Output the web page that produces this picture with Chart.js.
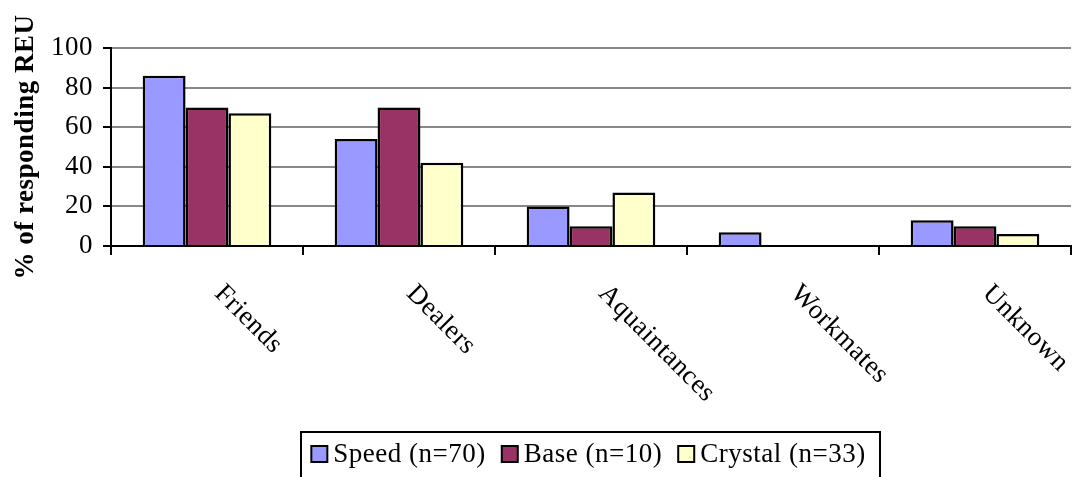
<!DOCTYPE html>
<html>
<head>
<meta charset="utf-8">
<script src="https://cdn.jsdelivr.net/npm/chart.js@4/dist/chart.umd.min.js"></script>
<style>
  html, body { margin: 0; padding: 0; background: #fff; }
  canvas { display: block; }
</style>
</head>
<body>
<canvas id="reuChart" width="1073" height="477"></canvas>
<script>
// categories and series (% of responding REU)
const categories = ['Friends', 'Dealers', 'Aquaintances', 'Workmates', 'Unknown'];
const seriesNames = ['Speed (n=70)', 'Base (n=10)', 'Crystal (n=33)'];
const speedValues = [86, 54, 20, 7, 13];
const baseValues = [70, 70, 10, 0, 10];
const crystalValues = [67, 42, 27, 0, 6];
const seriesColors = ['#9999FF', '#993366', '#FFFFCC'];
const yTicks = [0, 20, 40, 60, 80, 100];

const FONT = "'Liberation Serif', 'Times New Roman', serif";
const SIZE = 27;
const SPACING = '0.5px';

// slightly wider letter spacing, Garamond-ish look
const spacingPlugin = {
  id: 'spacing',
  beforeUpdate(chart) { chart.ctx.letterSpacing = SPACING; },
  beforeDraw(chart) { chart.ctx.letterSpacing = SPACING; }
};

// rotated category labels (top-left to bottom-right) under the axis
const xLabelPlugin = {
  id: 'xLabels',
  afterDraw(chart) {
    const ctx = chart.ctx;
    const xScale = chart.scales.x;
    const capH = SIZE * 0.66;
    ctx.save();
    ctx.letterSpacing = SPACING;
    ctx.font = SIZE + 'px ' + FONT;
    ctx.fillStyle = '#000';
    ctx.textAlign = 'left';
    ctx.textBaseline = 'alphabetic';
    categories.forEach(function (label, i) {
      const x = xScale.getPixelForValue(i);
      ctx.save();
      ctx.translate(x + 19 - capH * 0.707, 282 + capH * 0.707);
      ctx.rotate(Math.PI / 4);
      ctx.fillText(label, 0, 0);
      ctx.restore();
    });
    ctx.restore();
  }
};

// boxed legend at the bottom
const legendPlugin = {
  id: 'boxLegend',
  afterDraw(chart) {
    const ctx = chart.ctx;
    ctx.save();
    ctx.letterSpacing = SPACING;
    ctx.font = SIZE + 'px ' + FONT;
    ctx.lineWidth = 2;
    ctx.strokeStyle = '#000';
    ctx.strokeRect(301, 432, 579, 60);

    const sq = 16, gap = 5, itemGap = 15;
    const widths = seriesNames.map(function (n) { return ctx.measureText(n).width; });
    let total = 0;
    widths.forEach(function (w) { total += sq + 2 + gap + w; });
    total += itemGap * (seriesNames.length - 1);
    let x = 588 - total / 2;
    seriesNames.forEach(function (name, i) {
      ctx.fillStyle = seriesColors[i];
      ctx.fillRect(x + 1, 446, sq, sq);
      ctx.strokeRect(x + 1, 446, sq, sq);
      x += sq + 2 + gap;
      ctx.fillStyle = '#000';
      ctx.textBaseline = 'alphabetic';
      ctx.fillText(name, x, 462);
      x += widths[i] + itemGap;
    });
    ctx.restore();
  }
};

const barStyle = {
  borderColor: '#000',
  borderWidth: 2.5,
  barPercentage: 1.0,
  categoryPercentage: 0.67
};

new Chart(document.getElementById('reuChart').getContext('2d'), {
  type: 'bar',
  data: {
    labels: categories,
    datasets: [
      Object.assign({ label: seriesNames[0], data: speedValues, backgroundColor: seriesColors[0] }, barStyle),
      Object.assign({ label: seriesNames[1], data: baseValues, backgroundColor: seriesColors[1] }, barStyle),
      Object.assign({ label: seriesNames[2], data: crystalValues, backgroundColor: seriesColors[2] }, barStyle)
    ]
  },
  options: {
    responsive: false,
    animation: false,
    layout: {
      padding: { top: 48, right: 2, bottom: 0, left: 0 }
    },
    plugins: {
      legend: { display: false },
      tooltip: { enabled: false }
    },
    scales: {
      x: {
        offset: true,
        grid: {
          offset: true,
          drawOnChartArea: false,
          drawTicks: true,
          tickLength: 9,
          color: '#000',
          lineWidth: 2
        },
        border: { color: '#000', width: 2 },
        ticks: { display: false },
        afterFit: function (scale) { scale.height = 477 - 246; }
      },
      y: {
        min: 0,
        max: 100,
        afterBuildTicks: function (scale) {
          scale.ticks = yTicks.map(function (v) { return { value: v }; });
        },
        grid: {
          color: '#888',
          lineWidth: 2,
          tickColor: '#000',
          tickLength: 8
        },
        border: { color: '#000', width: 2 },
        ticks: {
          color: '#000',
          padding: 10,
          font: { family: FONT, size: SIZE }
        },
        title: {
          display: true,
          text: '% of responding REU',
          color: '#000',
          padding: { top: 10, bottom: 0 },
          font: { family: FONT, size: SIZE, weight: 'bold' }
        },
        afterFit: function (scale) { scale.width = 111; }
      }
    }
  },
  plugins: [spacingPlugin, xLabelPlugin, legendPlugin]
});
</script>
</body>
</html>
